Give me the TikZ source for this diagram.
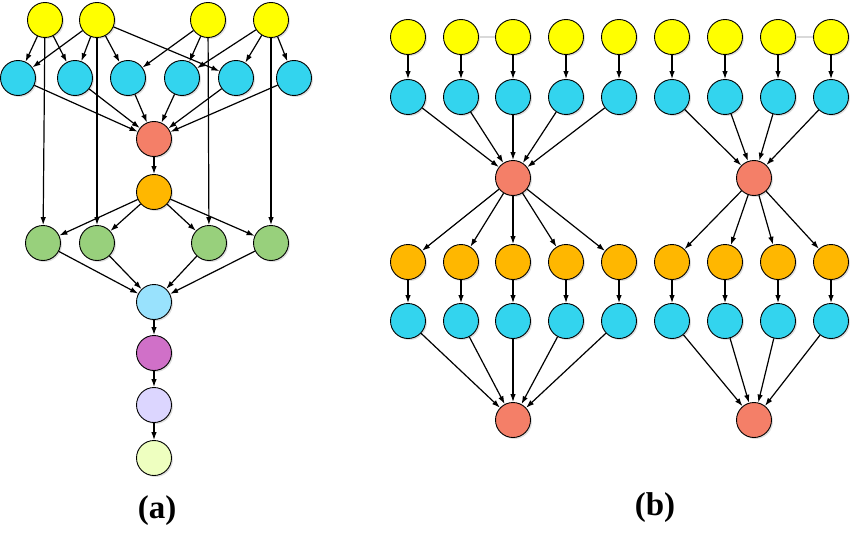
\documentclass[tikz,border=0pt]{standalone}
\usepackage{fontspec}
\setmainfont{Liberation Serif}
\usetikzlibrary{arrows.meta,shadows}
\definecolor{cYel}{HTML}{FFFF00}
\definecolor{cCyan}{HTML}{33D4EE}
\definecolor{cRed}{HTML}{F47F68}
\definecolor{cOra}{HTML}{FFB700}
\definecolor{cGrn}{HTML}{98D07C}
\definecolor{cLB}{HTML}{99E2FD}
\definecolor{cPur}{HTML}{D070C8}
\definecolor{cLav}{HTML}{DCD6FF}
\definecolor{cLG}{HTML}{EEFFC0}
\tikzset{
  nd/.style={circle, draw=black, line width=0.9pt, minimum size=35pt, inner sep=0pt,
    drop shadow={shadow xshift=1.5pt, shadow yshift=-1.5pt, opacity=0.25, fill=gray}},
  arr/.style={-{Latex[length=8pt,width=5.5pt]}, line width=1.2pt, black},
  lbl/.style={font=\fontsize{33}{36}\selectfont\bfseries},
  faint/.style={line width=1.2pt, black!15}
}
\begin{document}
\begin{tikzpicture}[x=1pt,y=-1pt]
\useasboundingbox (0,0) rectangle (850,532);
% ---------- panel (a)
\node[nd,fill=cYel] (y1) at (45,20) {};
\node[nd,fill=cYel] (y2) at (97,20) {};
\node[nd,fill=cYel] (y3) at (208,20) {};
\node[nd,fill=cYel] (y4) at (271,20) {};
\node[nd,fill=cCyan] (c1) at (18,78) {};
\node[nd,fill=cCyan] (c2) at (75,78) {};
\node[nd,fill=cCyan] (c3) at (128,78) {};
\node[nd,fill=cCyan] (c4) at (182,78) {};
\node[nd,fill=cCyan] (c5) at (236,78) {};
\node[nd,fill=cCyan] (c6) at (294,78) {};
\node[nd,fill=cRed] (r) at (154,139) {};
\node[nd,fill=cOra] (o) at (154,192) {};
\node[nd,fill=cGrn] (g1) at (43,243) {};
\node[nd,fill=cGrn] (g2) at (97,243) {};
\node[nd,fill=cGrn] (g3) at (209,243) {};
\node[nd,fill=cGrn] (g4) at (271,243) {};
\node[nd,fill=cLB] (lb) at (154,302) {};
\node[nd,fill=cPur] (p) at (154,353) {};
\node[nd,fill=cLav] (lv) at (154,405) {};
\node[nd,fill=cLG] (lg) at (154,458) {};
\node[lbl] (la) at (157,511) {(a)};
\foreach \a/\b in {y1/c1,y1/c2,y2/c1,y2/c2,y2/c3,y2/c5,y3/c3,y3/c4,y4/c4,y4/c5,y4/c6,
  y1/g1,y2/g2,y3/g3,y4/g4,c1/r,c2/r,c3/r,c4/r,c5/r,c6/r,r/o,o/g1,o/g2,o/g3,o/g4,
  g1/lb,g2/lb,g3/lb,g4/lb,lb/p,p/lv,lv/lg}
  \draw[arr] (\a) -- (\b);
% ---------- panel (b)
\foreach \i/\x in {1/408,2/461,3/513,4/566,5/619,6/672,7/725,8/778,9/831}{
  \node[nd,fill=cYel] (by\i) at (\x,37) {};
  \node[nd,fill=cCyan] (bc\i) at (\x,97) {};
  \node[nd,fill=cOra] (bo\i) at (\x,262) {};
  \node[nd,fill=cCyan] (bd\i) at (\x,321) {};
}
\node[nd,fill=cRed] (br1) at (513,178) {};
\node[nd,fill=cRed] (br2) at (754,178) {};
\node[nd,fill=cRed] (br3) at (513,420) {};
\node[nd,fill=cRed] (br4) at (754,420) {};
\node[lbl] (lbb) at (655,508) {(b)};
\draw[faint] (by2) -- (by3);
\draw[faint] (by8) -- (by9);
\foreach \i in {1,...,9}{
  \draw[arr] (by\i) -- (bc\i);
  \draw[arr] (bo\i) -- (bd\i);
}
\foreach \i in {1,...,5}{
  \draw[arr] (bc\i) -- (br1);
  \draw[arr] (br1) -- (bo\i);
  \draw[arr] (bd\i) -- (br3);
}
\foreach \i in {6,...,9}{
  \draw[arr] (bc\i) -- (br2);
  \draw[arr] (br2) -- (bo\i);
  \draw[arr] (bd\i) -- (br4);
}
\end{tikzpicture}
\end{document}
